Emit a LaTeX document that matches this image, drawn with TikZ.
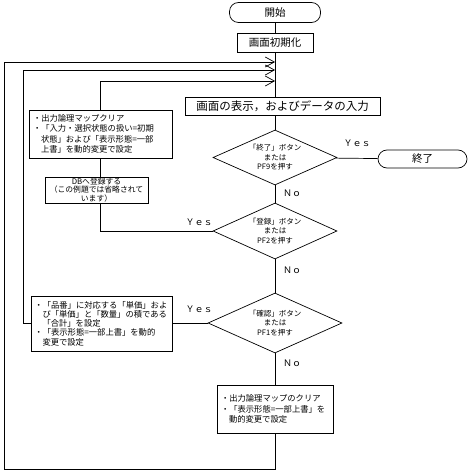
\documentclass[tikz,border=0pt]{standalone}
\usepackage{fontspec}
\setmainfont{Noto Sans CJK JP}
\usetikzlibrary{shapes.geometric,arrows.meta}
\begin{document}
\begin{tikzpicture}[x=1pt,y=-1pt,
  line width=0.7pt,
  box/.style={draw,rectangle,inner sep=0pt,line width=0.7pt},
  term/.style={draw,rectangle,rounded corners=9pt,inner sep=0pt,font=\fontsize{10.5}{12}\selectfont},
  dia/.style={draw,diamond,inner sep=0pt,font=\fontsize{7.5}{9.5}\selectfont,align=center},
  small/.style={font=\fontsize{8.3}{10.5}\selectfont,align=left},
  lbl/.style={inner sep=0pt,font=\fontsize{9}{10}\selectfont},
  chev/.style={-{Straight Barb[length=9pt,width=10pt,line width=0.7pt]}}
]
\useasboundingbox (0,0) rectangle (473,473);
\node[term,minimum width=91pt,minimum height=20pt] (start) at (275,12.5) {開始};
\node[box,minimum width=76pt,minimum height=19pt,font=\fontsize{10.5}{12}\selectfont] (init) at (275,42.5) {画面初期化};
\node[box,minimum width=195pt,minimum height=18pt,font=\fontsize{11.5}{13}\selectfont] (disp) at (282.5,106) {画面の表示，およびデータの入力};
\node[dia,aspect=2.25,minimum width=124pt,minimum height=55pt] (d1) at (275,157.5) {「終了」ボタン\\または\\PF9を押す};
\node[term,minimum width=89pt,minimum height=18pt] (end) at (422.5,159) {終了};
\node[dia,aspect=2.2,minimum width=124pt,minimum height=56pt] (d2) at (275,231) {「登録」ボタン\\または\\PF2を押す};
\node[dia,aspect=2.2,minimum width=134pt,minimum height=60pt] (d3) at (275,323) {「確認」ボタン\\または\\PF1を押す};
\node[box,small,minimum width=116pt,minimum height=48pt,text width=108pt] (last) at (275,409)
  {・出力論理マップのクリア\\・「表示形態=一部上書」を\\\hspace*{8pt}動的変更で設定};
\node[box,small,minimum width=143pt,minimum height=48pt,text width=135pt] (b1) at (100.5,134)
  {・出力論理マップクリア\\・「入力・選択状態の扱い=初期\\\hspace*{8pt}状態」および「表示形態=一部\\\hspace*{8pt}上書」を動的変更で設定};
\node[box,minimum width=103pt,minimum height=26pt] (db) at (96.5,190)
  {\parbox[c][20pt][c]{101pt}{\centering\fontsize{7.8}{8.8}\selectfont DBへ登録する\\（この例題では省略されて\\います）}};
\node[box,small,minimum width=141pt,minimum height=55pt,text width=134pt,font=\fontsize{8.3}{9.3}\selectfont] (b3) at (101.5,323.5)
  {・「品番」に対応する「単価」およ\\\hspace*{8pt}び「単価」と「数量」の積である\\\hspace*{8pt}「合計」を設定\\・「表示形態=一部上書」を動的\\\hspace*{8pt}変更で設定};
\coordinate (m1) at (275,62);
\coordinate (m2) at (275,70);
\coordinate (m3) at (275,81);
\coordinate (bot) at (275,469);
\coordinate (lx1) at (4,0);
\coordinate (lx2) at (23,0);
\coordinate (cx) at (100,0);
% main column
\draw (start) -- (init);
\draw (init.south) -- (init.south |- disp.north);
\draw (d1.north |- disp.south) -- (d1.north);
\draw (d1) -- (end);
\draw (d1) -- (d2);
\draw (d2) -- (d3);
\draw (d3) -- (last);
% loops
\draw[chev] (last.south) -- (bot) -| (lx1 |- m1) -- (m1);
\draw[chev] (b3.west) -| (lx2 |- m2) -- (m2);
\draw[chev] (cx |- b1.north) -- (cx |- m3) -- (m3);
\draw (cx |- db.north) -- (cx |- b1.south);
\draw (cx |- db.south) |- (d2.west);
\draw (d3.west) -- (b3.east |- d3.west);
% labels
\node[lbl] (y1) at (357,143) {Ｙｅｓ};
\node[lbl] (y2) at (199,222) {Ｙｅｓ};
\node[lbl] (y3) at (199,309) {Ｙｅｓ};
\node[lbl] (n1) at (292,193) {Ｎｏ};
\node[lbl] (n2) at (292,270) {Ｎｏ};
\node[lbl] (n3) at (292,363) {Ｎｏ};
\end{tikzpicture}
\end{document}
